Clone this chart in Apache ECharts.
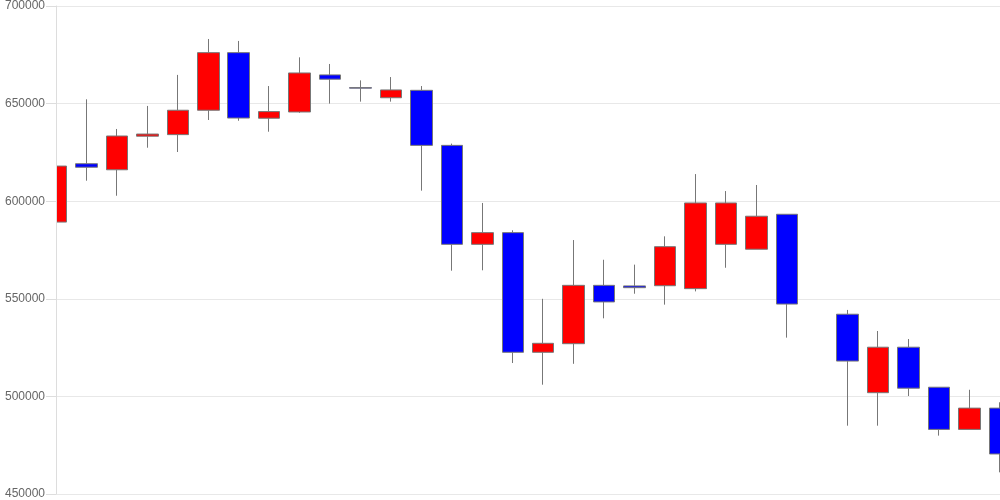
<!DOCTYPE html>
<html>
<head>
<meta charset="utf-8">
<script src="https://cdn.jsdelivr.net/npm/echarts@6/dist/echarts.min.js"></script>
<style>html,body{margin:0;padding:0;background:#fff}#c{width:1000px;height:500px}</style>
</head>
<body>
<div id="c"></div>
<script>
var categories = ['1','2','3','4','5','6','7','8','9','10','11','12','13','14','15','16','17','18','19','20','21','22','23','24','25','26','27','28','29','30','31','32'];
var opens  = [589300,619200,616100,633300,634100,646600,676100,642500,645700,664700,658200,653000,656800,628600,577900,583900,522600,527000,556900,556600,556700,555200,577900,575400,593300,null,542100,501900,525200,504700,483100,494000];
var closes = [618000,617400,633400,634400,646600,676100,642600,645900,665700,662500,657900,657000,628600,577900,583900,522600,527200,556900,548400,555700,576700,599100,599100,592300,547300,null,518100,525200,504200,483100,494000,470500];
var lows   = [564200,610500,602800,627400,625200,641600,641200,635600,645300,650000,651000,651000,605400,564400,564600,517100,506000,516700,540000,552600,547000,553800,565900,575400,530100,null,485000,485000,500200,479900,483100,461100];
var highs  = [634000,652200,637000,648800,664700,683100,682100,659000,673700,670300,661900,663600,659000,629500,599100,585100,550000,580100,570000,567500,582000,613900,605200,608300,593300,null,544300,533500,529400,504700,503400,497000];
var yTicks = [450000,500000,550000,600000,650000,700000];

var data = categories.map(function(c,i){
  if (opens[i] === null) return '-';
  return [opens[i], closes[i], lows[i], highs[i]];
});

var yMin = yTicks[0], yMax = yTicks[yTicks.length-1];
var chart = echarts.init(document.getElementById('c'), null, {renderer:'canvas'});
chart.setOption({
  animation:false,
  grid:{left:56,right:0,top:6,bottom:6,containLabel:false},
  graphic:[{type:'rect',left:0,top:0,z:5,shape:{width:56,height:500},style:{fill:'#ffffff'},silent:true}],
  xAxis:{type:'category',data:categories,boundaryGap:false,
    axisLine:{show:false},axisTick:{show:false},axisLabel:{show:false},splitLine:{show:false}},
  yAxis:[
    {type:'value',min:yMin,max:yMax,interval:50000,z:10,position:'left',
      axisLine:{show:true,lineStyle:{color:'#dddddd'}},
      axisTick:{show:true,length:10,lineStyle:{color:'#dddddd'}},
      axisLabel:{color:'#666666',fontSize:12,fontFamily:'Liberation Sans, Arial, sans-serif',margin:11,
        formatter:function(v){return String(v);}},
      splitLine:{show:false}},
    {type:'value',min:yMin,max:yMax,interval:50000,z:0,position:'left',offset:0,
      axisLine:{show:false},axisTick:{show:false},axisLabel:{show:false},
      splitLine:{show:true,lineStyle:{color:'#e8e8e8'}}}
  ],
  series:[{type:'candlestick',data:data,barWidth:22,clip:true,z:2,yAxisIndex:0,
    itemStyle:{color:'#ff0000',color0:'#0000ff',borderColor:'#777777',borderColor0:'#777777',borderColorDoji:'#777777',borderWidth:1}}]
});
</script>
</body>
</html>
